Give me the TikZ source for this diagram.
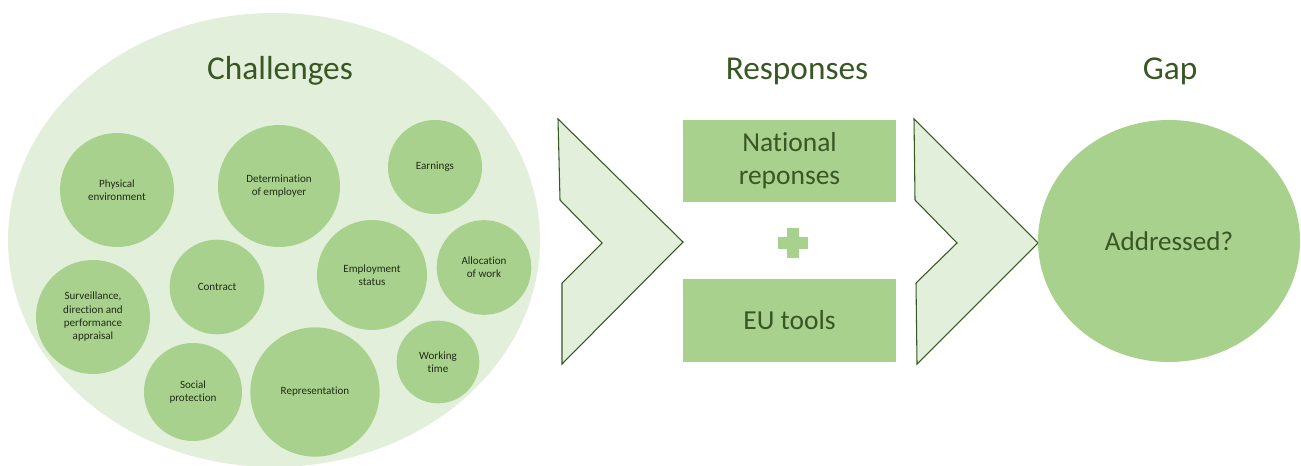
\documentclass[tikz,border=0pt]{standalone}
\usepackage{fontspec}
\setmainfont{Carlito}[Ligatures=CommonOff]
\usepackage{tikz}
\usetikzlibrary{shapes.geometric}

\definecolor{paleGreen}{HTML}{E2EFDA}
\definecolor{midGreen}{HTML}{A9D18E}
\definecolor{darkGreen}{HTML}{385723}
\definecolor{inkGreen}{HTML}{1F2D16}

\tikzset{
  bubble/.style={circle, fill=midGreen, inner sep=0pt, align=center, text=inkGreen, font=\fontsize{8.3}{10}\selectfont},
  heading/.style={anchor=base, text=darkGreen, font=\fontsize{25}{30}\selectfont},
  respbox/.style={rectangle, fill=midGreen, inner sep=0pt, minimum width=159.75pt, align=center, text=darkGreen, font=\fontsize{20.6}{24.7}\selectfont},
  chevron/.style={fill=paleGreen, draw=darkGreen, line width=0.8pt, line join=miter}
}

\begin{document}
\begin{tikzpicture}[x=0.75pt, y=-0.75pt]
        \useasboundingbox (0,0) rectangle (1301,466);
        \node[ellipse, fill=paleGreen, minimum width=399pt, minimum height=340.5pt, inner sep=0pt] (area) at (274,240) {};
        \node[heading] (chal) at (280,80) {Challenges};
        \node[heading] (resp) at (797,80) {Responses};
        \node[heading] (gaptitle) at (1170,80) {Gap};
        \node[bubble, minimum size=85.5pt] (phys) at (117,190) {Physical\\environment};
        \node[bubble, minimum size=91.5pt] (employer) at (279,186) {Determination\\of employer};
        \node[bubble, minimum size=70.5pt] (earn) at (435,167) {Earnings};
        \node[bubble, minimum size=71pt] (contract) at (217,287) {Contract};
        \node[bubble, minimum size=82.5pt] (status) at (372,275) {Employment\\status};
        \node[bubble, minimum size=71pt] (alloc) at (484,267.5) {Allocation\\of work};
        \node[bubble, minimum size=85.5pt] (surv) at (93,317) {Surveillance,\\direction and\\performance\\appraisal};
        \node[bubble, minimum size=73.5pt] (social) at (193,392) {Social\\protection};
        \node[bubble, minimum size=97pt] (repr) at (315,392) {Representation};
        \node[bubble, minimum size=62pt] (worktime) at (438,362) {Working\\time};
        \draw[chevron] (558,119) -- (683,242) -- (562,364) -- (562,283) -- (602,243) -- (560,200) -- cycle;
        \draw[chevron] (914,119) -- (1038,243) -- (917,364) -- (916,283) -- (957,243) -- (915,200) -- cycle;
        \node[respbox, minimum height=61.5pt] (national) at (789.5,161) {National\\reponses};
        \node[respbox, minimum height=62.25pt] (eutools) at (789.5,320.5) {EU tools};
        \fill[midGreen] (777.5,237.5) rectangle (807.5,249.5);
        \fill[midGreen] (786.5,228.5) rectangle (798.5,258.5);
        \node[ellipse, fill=midGreen, minimum width=196.5pt, minimum height=181.5pt, inner sep=0pt, text=darkGreen, font=\fontsize{20.3}{24}\selectfont] (gap) at (1169,241) {Addressed?};
    \end{tikzpicture}
\end{document}
